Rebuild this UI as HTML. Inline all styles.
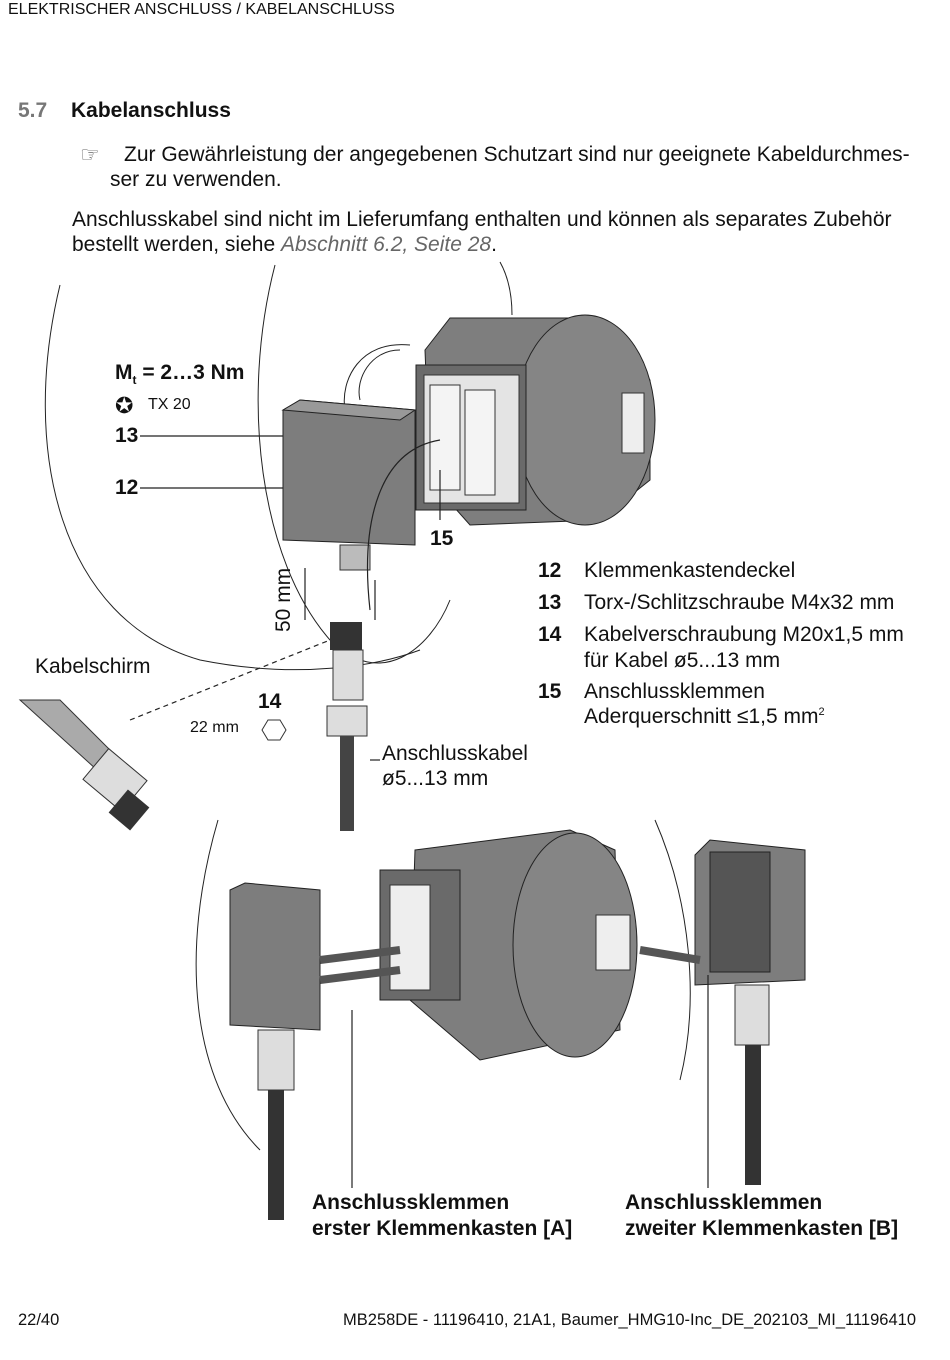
<!DOCTYPE html>
<html><head><meta charset="utf-8"><style>
body{margin:0;width:950px;height:1360px;background:#fff;position:relative;font-family:"Liberation Sans",sans-serif;color:#111;overflow:hidden}
.t{position:absolute;white-space:nowrap}
svg{position:absolute;left:0;top:0}
</style></head><body>
<svg width="950" height="1360" viewBox="0 0 950 1360">
<g fill="none" stroke="#222" stroke-width="1">
<path d="M60 285 C20 450 60 620 200 660 C300 680 380 665 420 650"/>
<path d="M275 265 C240 400 260 560 330 640 C380 690 430 650 450 600"/>
<path d="M500 262 C510 280 512 300 512 315"/>
<path d="M218 820 C180 950 190 1080 260 1150"/>
<path d="M655 820 C690 900 700 1000 680 1080"/>
<path d="M410 345 C360 340 340 380 345 410" />
<path d="M400 350 C370 350 355 380 360 400" />
</g>
<!-- top motor -->
<path d="M425 350 L450 318 L600 318 L650 380 L650 480 L600 520 L470 525 L430 480 Z" fill="#7e7e7e" stroke="#222"/>
<ellipse cx="585" cy="420" rx="70" ry="105" fill="#858585" stroke="#222"/>
<rect x="416" y="365" width="110" height="145" fill="#6a6a6a" stroke="#222"/>
<rect x="424" y="375" width="95" height="128" fill="#e4e4e4" stroke="#333"/>
<rect x="430" y="385" width="30" height="105" fill="#f4f4f4" stroke="#333"/>
<rect x="465" y="390" width="30" height="105" fill="#f4f4f4" stroke="#333"/>
<rect x="622" y="393" width="22" height="60" fill="#eee" stroke="#333"/>
<!-- top cover -->
<path d="M283 410 L300 400 L415 410 L415 545 L283 540 Z" fill="#7d7d7d" stroke="#222"/>
<path d="M283 410 L300 400 L415 410 L400 420 Z" fill="#999" stroke="#222"/>
<rect x="340" y="545" width="30" height="25" fill="#bbb" stroke="#333"/>
<rect x="330" y="622" width="32" height="28" fill="#333"/>
<rect x="333" y="650" width="30" height="50" fill="#ddd" stroke="#333"/>
<rect x="327" y="706" width="40" height="30" fill="#ddd" stroke="#333"/>
<rect x="340" y="736" width="14" height="95" fill="#444"/>
<polygon points="262,730 268,720 280,720 286,730 280,740 268,740" fill="#fff" stroke="#333"/>
<g stroke="#222" stroke-width="1.2" fill="none">
<line x1="305" y1="568" x2="305" y2="620"/><line x1="375" y1="580" x2="375" y2="620"/>
<line x1="140" y1="436" x2="283" y2="436"/><line x1="140" y1="488" x2="283" y2="488"/>
<line x1="370" y1="760" x2="380" y2="760"/>
<line x1="130" y1="720" x2="330" y2="640" stroke-dasharray="5 4"/>
<path d="M370 610 C360 520 380 450 440 440"/>
<line x1="440" y1="520" x2="440" y2="470"/>
</g>
<path d="M20 700 L60 700 L140 780 L130 800 Z" fill="#aaa" stroke="#333"/>
<rect x="90" y="760" width="50" height="40" fill="#ddd" stroke="#333" transform="rotate(40 115 780)"/>
<rect x="115" y="795" width="28" height="30" fill="#333" transform="rotate(40 129 810)"/>
<!-- bottom motor -->
<path d="M415 850 L570 830 L615 850 L620 1030 L480 1060 L410 1000 Z" fill="#7e7e7e" stroke="#222"/>
<ellipse cx="575" cy="945" rx="62" ry="112" fill="#858585" stroke="#222"/>
<rect x="380" y="870" width="80" height="130" fill="#6a6a6a" stroke="#222"/>
<rect x="390" y="885" width="40" height="105" fill="#eee" stroke="#333"/>
<rect x="596" y="915" width="34" height="55" fill="#eee" stroke="#333"/>
<path d="M230 890 L245 883 L320 890 L320 1030 L230 1025 Z" fill="#7d7d7d" stroke="#222"/>
<path d="M695 855 L710 840 L805 850 L805 980 L695 985 Z" fill="#7d7d7d" stroke="#222"/>
<rect x="710" y="852" width="60" height="120" fill="#555" stroke="#222"/>
<rect x="258" y="1030" width="36" height="60" fill="#ddd" stroke="#333"/>
<rect x="268" y="1090" width="16" height="130" fill="#333"/>
<rect x="735" y="985" width="34" height="60" fill="#ddd" stroke="#333"/>
<rect x="745" y="1045" width="16" height="140" fill="#333"/>
<path d="M320 960 L400 950 M320 980 L400 970 M700 960 L640 950" stroke="#555" stroke-width="8"/>
<g stroke="#222" fill="none" stroke-width="1.2">
<line x1="352" y1="1010" x2="352" y2="1188"/><line x1="708" y1="975" x2="708" y2="1188"/>
</g>
</svg>
<div class="t" style="left:8px;top:1px;font-size:16px">ELEKTRISCHER ANSCHLUSS / KABELANSCHLUSS</div>
<div class="t" style="left:18px;top:99px;font-size:21px;font-weight:bold"><span style="color:#777">5.7</span><span style="position:absolute;left:53px">Kabelanschluss</span></div>
<div class="t" style="left:80px;top:142px;font-size:22px;color:#666">☞</div>
<div class="t" style="left:124px;top:142px;font-size:21px;line-height:25px">Zur Gewährleistung der angegebenen Schutzart sind nur geeignete Kabeldurchmes-</div>
<div class="t" style="left:110px;top:167px;font-size:21px;line-height:25px">ser zu verwenden.</div>
<div class="t" style="left:72px;top:207px;font-size:21px;line-height:25px">Anschlusskabel sind nicht im Lieferumfang enthalten und können als separates Zubehör<br>bestellt werden, siehe <i style="color:#666">Abschnitt 6.2, Seite 28</i>.</div>
<div class="t" style="left:115px;top:361px;font-size:21px;font-weight:bold">M<sub style="font-size:12px">t</sub> = 2…3 Nm</div>
<div class="t" style="left:115px;top:393px;font-size:22px">✪</div>
<div class="t" style="left:148px;top:396px;font-size:16px">TX 20</div>
<div class="t" style="left:115px;top:424px;font-size:21px;font-weight:bold">13</div>
<div class="t" style="left:115px;top:476px;font-size:21px;font-weight:bold">12</div>
<div class="t" style="left:430px;top:527px;font-size:21px;font-weight:bold">15</div>
<div class="t" style="left:272px;top:632px;font-size:21px;transform:rotate(-90deg);transform-origin:0 0">50 mm</div>
<div class="t" style="left:538px;top:559px;font-size:21px"><b>12</b><span style="position:absolute;left:46px">Klemmenkastendeckel</span></div>
<div class="t" style="left:538px;top:591px;font-size:21px"><b>13</b><span style="position:absolute;left:46px">Torx-/Schlitzschraube M4x32 mm</span></div>
<div class="t" style="left:538px;top:623px;font-size:21px"><b>14</b><span style="position:absolute;left:46px">Kabelverschraubung M20x1,5 mm</span></div>
<div class="t" style="left:584px;top:649px;font-size:21px">für Kabel ø5...13 mm</div>
<div class="t" style="left:538px;top:680px;font-size:21px"><b>15</b><span style="position:absolute;left:46px">Anschlussklemmen</span></div>
<div class="t" style="left:584px;top:705px;font-size:21px">Aderquerschnitt ≤1,5 mm<sup style="font-size:11px">2</sup></div>
<div class="t" style="left:35px;top:655px;font-size:21px">Kabelschirm</div>
<div class="t" style="left:258px;top:690px;font-size:21px;font-weight:bold">14</div>
<div class="t" style="left:190px;top:719px;font-size:16px">22 mm</div>
<div class="t" style="left:382px;top:741px;font-size:21px;line-height:25px">Anschlusskabel<br>ø5...13 mm</div>
<div class="t" style="left:312px;top:1190px;font-size:21px;font-weight:bold;line-height:26px">Anschlussklemmen<br>erster Klemmenkasten [A]</div>
<div class="t" style="left:625px;top:1190px;font-size:21px;font-weight:bold;line-height:26px">Anschlussklemmen<br>zweiter Klemmenkasten [B]</div>
<div class="t" style="left:18px;top:1311px;font-size:16.5px">22/40</div>
<div class="t" style="right:34px;top:1311px;font-size:16.5px">MB258DE - 11196410, 21A1, Baumer_HMG10-Inc_DE_202103_MI_11196410</div>
</body></html>
